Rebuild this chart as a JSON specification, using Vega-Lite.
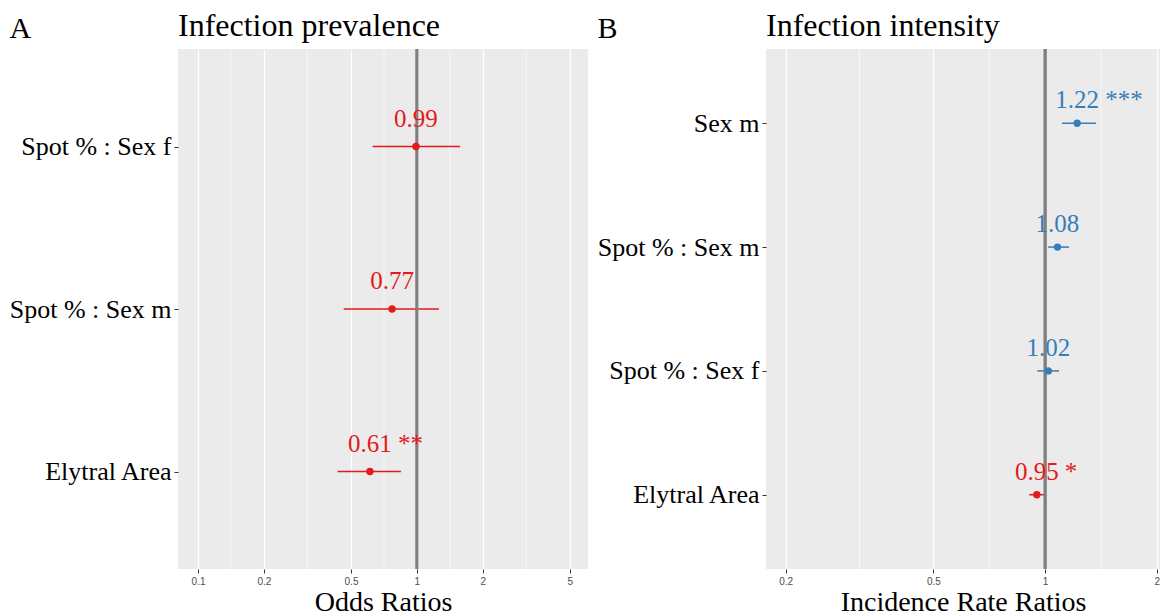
{
  "$schema": "https://vega.github.io/schema/vega-lite/v6.json",
  "padding": {"left": 9, "top": 10, "right": 0, "bottom": 0},
  "background": "white",
  "spacing": 9,
  "config": {
    "view": {"fill": "#EBEBEB", "stroke": null},
    "title": {"font": "Liberation Serif", "fontSize": 32, "fontWeight": "normal", "color": "black", "anchor": "start", "frame": "group", "baseline": "alphabetic", "offset": -30},
    "axis": {
      "domain": false,
      "tickColor": "#333333",
      "tickSize": 4,
      "gridColor": "white"
    }
  },
  "datasets": {
    "prev": [
      {"term": "Spot % : Sex f", "est": 0.99, "lo": 0.628, "hi": 1.575, "label": "0.99", "stars": "", "dir": "neg"},
      {"term": "Spot % : Sex m", "est": 0.77, "lo": 0.463, "hi": 1.26, "label": "0.77", "stars": "", "dir": "neg"},
      {"term": "Elytral Area", "est": 0.61, "lo": 0.434, "hi": 0.845, "label": "0.61", "stars": "**", "dir": "neg"}
    ],
    "prevMinor": [{"x": 0.1414}, {"x": 0.3162}, {"x": 0.7071}, {"x": 1.4142}, {"x": 3.1623}],
    "inten": [
      {"term": "Sex m", "est": 1.22, "lo": 1.111, "hi": 1.371, "label": "1.22", "stars": "***", "dir": "pos"},
      {"term": "Spot % : Sex m", "est": 1.08, "lo": 1.019, "hi": 1.16, "label": "1.08", "stars": "", "dir": "pos"},
      {"term": "Spot % : Sex f", "est": 1.02, "lo": 0.952, "hi": 1.09, "label": "1.02", "stars": "", "dir": "pos"},
      {"term": "Elytral Area", "est": 0.95, "lo": 0.906, "hi": 0.994, "label": "0.95", "stars": "*", "dir": "neg"}
    ],
    "intenMinor": [{"x": 0.3162}, {"x": 0.7071}, {"x": 1.4142}]
  },
  "hconcat": [
    {
      "width": 410,
      "height": 520,
      "title": {"text": "Infection prevalence"},
      "layer": [
        {
          "data": {"name": "prevMinor"},
          "mark": {"type": "rule", "color": "white", "strokeWidth": 0.6},
          "encoding": {"x": {"field": "x", "type": "quantitative", "scale": {"type": "log", "domain": [0.081, 6.05], "nice": false}}}
        },
        {
          "data": {"name": "prev"},
          "mark": {"type": "rule", "strokeWidth": 1.5},
          "encoding": {
            "y": {"field": "term", "type": "nominal", "sort": ["Spot % : Sex f", "Spot % : Sex m", "Elytral Area"], "scale": {"type": "point", "padding": 0.6},
              "axis": {"title": "A", "titleAngle": 0, "titleX": -169, "titleY": -12, "titleAlign": "left", "titleBaseline": "alphabetic", "titleFont": "Liberation Serif", "titleFontSize": 30, "titleFontWeight": "normal", "titleColor": "black",
                "labelFont": "Liberation Serif", "labelFontSize": 26, "labelColor": "black", "labelPadding": 3, "labelLimit": 300, "gridWidth": 1.2}},
            "x": {"field": "lo", "type": "quantitative", "scale": {"type": "log", "domain": [0.081, 6.05], "nice": false},
              "axis": {"values": [0.1, 0.2, 0.5, 1, 2, 5], "format": "~g", "labelFont": "Liberation Sans", "labelFontSize": 10, "labelColor": "#4D4D4D", "labelPadding": 3, "gridWidth": 1.2,
                "title": "Odds Ratios", "titleFont": "Liberation Serif", "titleFontSize": 28, "titleFontWeight": "normal", "titleColor": "black", "titlePadding": 2}},
            "x2": {"field": "hi"},
            "color": {"field": "dir", "type": "nominal", "scale": {"domain": ["neg", "pos"], "range": ["#E41A1C", "#377EB8"]}, "legend": null}
          }
        },
        {
          "data": {"name": "prev"},
          "mark": {"type": "rule", "color": "#7F7F7F", "strokeWidth": 2.5},
          "encoding": {"x": {"datum": 1}}
        },
        {
          "data": {"name": "prev"},
          "mark": {"type": "point", "filled": true, "size": 55, "opacity": 1},
          "encoding": {
            "y": {"field": "term", "type": "nominal", "sort": ["Spot % : Sex f", "Spot % : Sex m", "Elytral Area"]},
            "x": {"field": "est", "type": "quantitative"},
            "color": {"field": "dir", "type": "nominal", "legend": null}
          }
        },
        {
          "data": {"name": "prev"},
          "mark": {"type": "text", "font": "Liberation Serif", "fontSize": 25, "baseline": "alphabetic", "align": "center", "dy": -20},
          "encoding": {
            "y": {"field": "term", "type": "nominal", "sort": ["Spot % : Sex f", "Spot % : Sex m", "Elytral Area"]},
            "x": {"field": "est", "type": "quantitative"},
            "text": {"field": "label"},
            "color": {"field": "dir", "type": "nominal", "legend": null}
          }
        },
        {
          "data": {"name": "prev"},
          "mark": {"type": "text", "font": "Liberation Serif", "fontSize": 25, "baseline": "alphabetic", "align": "left", "dy": -20, "dx": 28},
          "encoding": {
            "y": {"field": "term", "type": "nominal", "sort": ["Spot % : Sex f", "Spot % : Sex m", "Elytral Area"]},
            "x": {"field": "est", "type": "quantitative"},
            "text": {"field": "stars"},
            "color": {"field": "dir", "type": "nominal", "legend": null}
          }
        }
      ]
    },
    {
      "width": 394,
      "height": 520,
      "title": {"text": "Infection intensity"},
      "layer": [
        {
          "data": {"name": "intenMinor"},
          "mark": {"type": "rule", "color": "white", "strokeWidth": 0.6},
          "encoding": {"x": {"field": "x", "type": "quantitative", "scale": {"type": "log", "domain": [0.177, 2.04], "nice": false}}}
        },
        {
          "data": {"name": "inten"},
          "mark": {"type": "rule", "strokeWidth": 1.5},
          "encoding": {
            "y": {"field": "term", "type": "nominal", "sort": ["Sex m", "Spot % : Sex m", "Spot % : Sex f", "Elytral Area"], "scale": {"type": "point", "padding": 0.6},
              "axis": {"title": "B", "titleAngle": 0, "titleX": -169, "titleY": -12, "titleAlign": "left", "titleBaseline": "alphabetic", "titleFont": "Liberation Serif", "titleFontSize": 30, "titleFontWeight": "normal", "titleColor": "black",
                "labelFont": "Liberation Serif", "labelFontSize": 26, "labelColor": "black", "labelPadding": 3, "labelLimit": 300, "gridWidth": 1.2}},
            "x": {"field": "lo", "type": "quantitative", "scale": {"type": "log", "domain": [0.177, 2.04], "nice": false},
              "axis": {"values": [0.2, 0.5, 1, 2], "format": "~g", "labelFont": "Liberation Sans", "labelFontSize": 10, "labelColor": "#4D4D4D", "labelPadding": 3, "gridWidth": 1.2,
                "title": "Incidence Rate Ratios", "titleFont": "Liberation Serif", "titleFontSize": 28, "titleFontWeight": "normal", "titleColor": "black", "titlePadding": 2}},
            "x2": {"field": "hi"},
            "color": {"field": "dir", "type": "nominal", "scale": {"domain": ["neg", "pos"], "range": ["#E41A1C", "#377EB8"]}, "legend": null}
          }
        },
        {
          "data": {"name": "inten"},
          "mark": {"type": "rule", "color": "#7F7F7F", "strokeWidth": 2.5},
          "encoding": {"x": {"datum": 1}}
        },
        {
          "data": {"name": "inten"},
          "mark": {"type": "point", "filled": true, "size": 55, "opacity": 1},
          "encoding": {
            "y": {"field": "term", "type": "nominal", "sort": ["Sex m", "Spot % : Sex m", "Spot % : Sex f", "Elytral Area"]},
            "x": {"field": "est", "type": "quantitative"},
            "color": {"field": "dir", "type": "nominal", "legend": null}
          }
        },
        {
          "data": {"name": "inten"},
          "mark": {"type": "text", "font": "Liberation Serif", "fontSize": 25, "baseline": "alphabetic", "align": "center", "dy": -15},
          "encoding": {
            "y": {"field": "term", "type": "nominal", "sort": ["Sex m", "Spot % : Sex m", "Spot % : Sex f", "Elytral Area"]},
            "x": {"field": "est", "type": "quantitative"},
            "text": {"field": "label"},
            "color": {"field": "dir", "type": "nominal", "legend": null}
          }
        },
        {
          "data": {"name": "inten"},
          "mark": {"type": "text", "font": "Liberation Serif", "fontSize": 25, "baseline": "alphabetic", "align": "left", "dy": -15, "dx": 28},
          "encoding": {
            "y": {"field": "term", "type": "nominal", "sort": ["Sex m", "Spot % : Sex m", "Spot % : Sex f", "Elytral Area"]},
            "x": {"field": "est", "type": "quantitative"},
            "text": {"field": "stars"},
            "color": {"field": "dir", "type": "nominal", "legend": null}
          }
        }
      ]
    }
  ]
}
